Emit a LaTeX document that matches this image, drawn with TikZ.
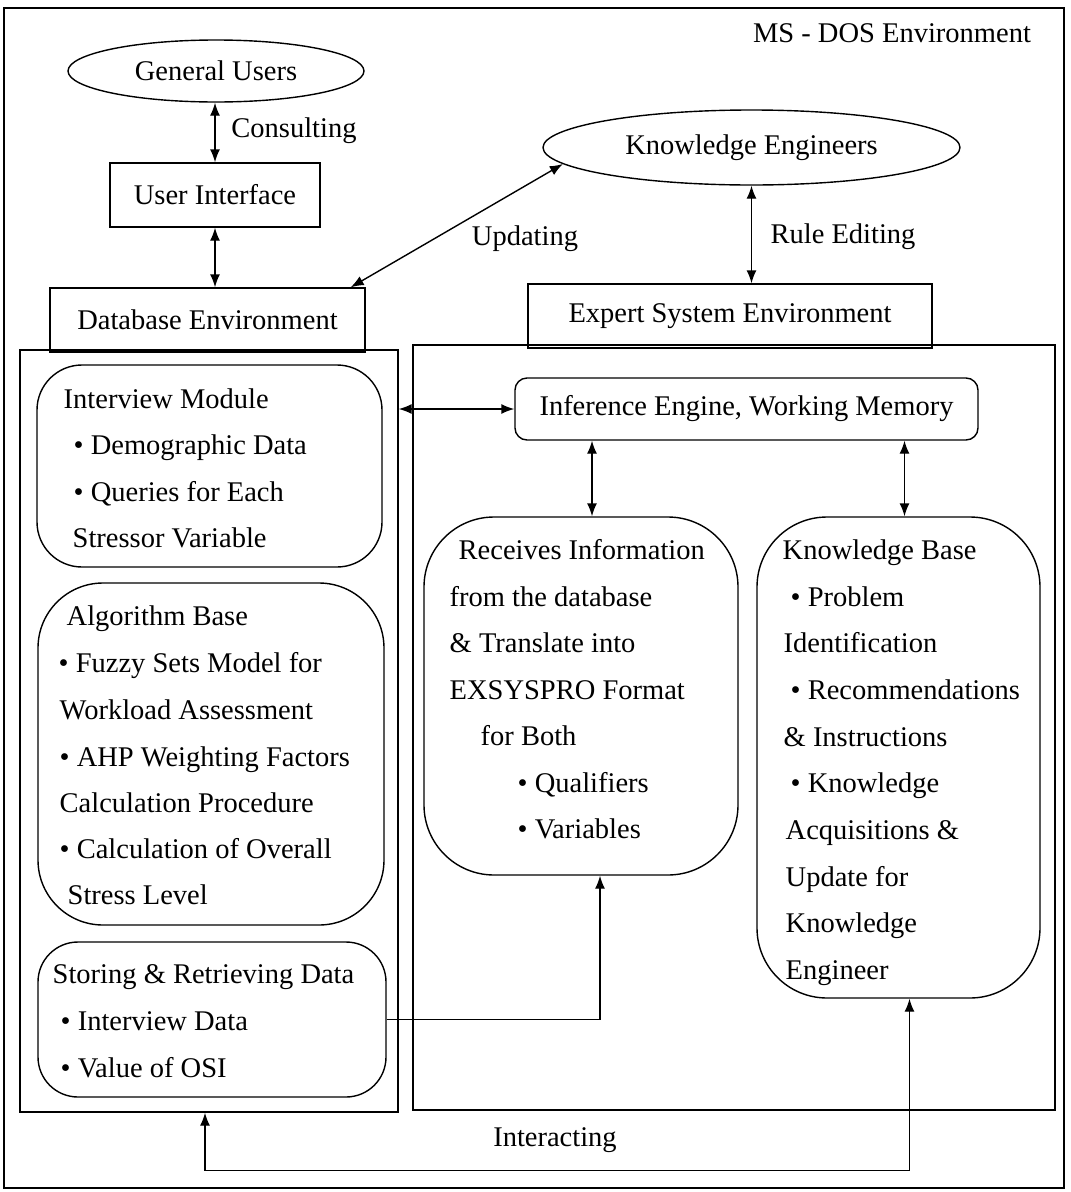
\documentclass[tikz,border=0pt]{standalone}
\usepackage{fontspec}
\setmainfont{Liberation Serif}
\usetikzlibrary{calc, positioning, arrows.meta, shapes.geometric}

\begin{document}
\begin{tikzpicture}[
  x=1pt, y=-1pt,
  line width=1.4pt,
  font=\fontsize{28.5}{34}\selectfont,
  plainbox/.style={draw, inner sep=0pt},
  roundbox/.style={draw, rounded corners=#1, inner sep=0pt},
  oval/.style={draw, ellipse, inner sep=0pt},
  lbl/.style={inner sep=0pt},
  txt/.style={anchor=base west, inner sep=0pt},
  link/.style={{Latex[length=13pt,width=10pt]}-{Latex[length=13pt,width=10pt]}},
  feed/.style={-{Latex[length=13pt,width=10pt]}}
]
\useasboundingbox (0,0) rectangle (1071,1192);

% Outer frame
\node[plainbox, line width=2.2pt, minimum width=1060, minimum height=1180] (dos) at (534,598) {};
\node[lbl] (doslabel) at (892,33) {MS - DOS Environment};

% Users and engineers
\node[oval, minimum width=296, minimum height=62] (gu) at (216,71) {General Users};
\node[lbl] (consult) at (294,131) {Consulting};
\node[plainbox, minimum width=210, minimum height=64] (ui) at (215,195) {User Interface};
\node[plainbox, minimum width=315, minimum height=64] (dbenv) at (207.5,320) {Database Environment};
\node[oval, minimum width=417, minimum height=75] (ke) at (751.5,147.5) {Knowledge Engineers};
\node[lbl] (update) at (525,239) {Updating};
\node[lbl] (rule) at (843,237) {Rule Editing};
\node[plainbox, minimum width=404, minimum height=64] (esenv) at (730,316) {Expert System Environment};

% Containers
\node[plainbox, minimum width=378, minimum height=762] (db) at (209,731) {};
\node[plainbox, minimum width=642, minimum height=765] (es) at (734,727.5) {};

% Database side: Interview module
\node[roundbox=45pt, minimum width=345, minimum height=202] (im) at (209.5,466) {};
\node[txt] (im1) at (63,408) {Interview Module};
\node[txt] (im2) at (73,454) {\textbullet{} Demographic Data};
\node[txt] (im3) at (73,501) {\textbullet{} Queries for Each};
\node[txt] (im4) at (72,547) {Stressor Variable};

% Database side: Algorithm base
\node[roundbox=65pt, minimum width=346, minimum height=342] (ab) at (211,754) {};
\node[txt] (ab1) at (66,625) {Algorithm Base};
\node[txt] (ab2) at (58,672) {\textbullet{} Fuzzy Sets Model for};
\node[txt] (ab3) at (59,719) {Workload Assessment};
\node[txt] (ab4) at (59,766) {\textbullet{} AHP Weighting Factors};
\node[txt] (ab5) at (59,812) {Calculation Procedure};
\node[txt] (ab6) at (59,858) {\textbullet{} Calculation of Overall};
\node[txt] (ab7) at (67,904) {Stress Level};

% Database side: Storing and retrieving
\node[roundbox=40pt, minimum width=348, minimum height=155] (st) at (212,1019.5) {};
\node[txt] (st1) at (52,983) {Storing \& Retrieving Data};
\node[txt] (st2) at (60,1030) {\textbullet{} Interview Data};
\node[txt] (st3) at (60,1077) {\textbullet{} Value of OSI};

% Expert system side
\node[roundbox=12pt, minimum width=463, minimum height=62] (inf) at (746.5,409) {Inference Engine, Working Memory};

\node[roundbox=70pt, minimum width=314, minimum height=358] (rec) at (581,696) {};
\node[txt] (rec1) at (458,559) {Receives Information};
\node[txt] (rec2) at (449,606) {from the database};
\node[txt] (rec3) at (449,652) {\& Translate into};
\node[txt] (rec4) at (449,699) {EXSYSPRO Format};
\node[txt] (rec5) at (480,745) {for Both};
\node[txt] (rec6) at (517,792) {\textbullet{} Qualifiers};
\node[txt] (rec7) at (517,838) {\textbullet{} Variables};

\node[roundbox=70pt, minimum width=283, minimum height=481] (kb) at (898.5,757.5) {};
\node[txt] (kb1) at (782,559) {Knowledge Base};
\node[txt] (kb2) at (790,606) {\textbullet{} Problem};
\node[txt] (kb3) at (783,652) {Identification};
\node[txt] (kb4) at (790,699) {\textbullet{} Recommendations};
\node[txt] (kb5) at (783,746) {\& Instructions};
\node[txt] (kb6) at (790,792) {\textbullet{} Knowledge};
\node[txt] (kb7) at (785,839) {Acquisitions \&};
\node[txt] (kb8) at (785,886) {Update for};
\node[txt] (kb9) at (785,932) {Knowledge};
\node[txt] (kb10) at (785,979) {Engineer};

% Connectors
\draw[link] (gu.south -| ui.north) -- (ui.north);
\draw[link] (ui.south) -- (ui.south |- dbenv.north);
\draw[link] ($(dbenv.north east)+(-15,0)$) -- (ke.185);
\draw[link] (ke.south) -- (ke.south |- esenv.north);
\draw[link] (db.east |- inf.west) -- (inf.west);
\draw[link] ($(inf.south -| rec.north)+(11,0)$) -- ($(rec.north)+(11,0)$);
\draw[link] ($(inf.south -| kb.north)+(6,0)$) -- ($(kb.north)+(6,0)$);
\draw[feed] (st.east) -| ($(rec.south)+(19,0)$);
\draw[link] ($(db.south)+(-4,0)$) -- ++(0,58) -| ($(kb.south)+(11,0)$);
\node[lbl] (interact) at (555,1140) {Interacting};
\end{tikzpicture}
\end{document}
